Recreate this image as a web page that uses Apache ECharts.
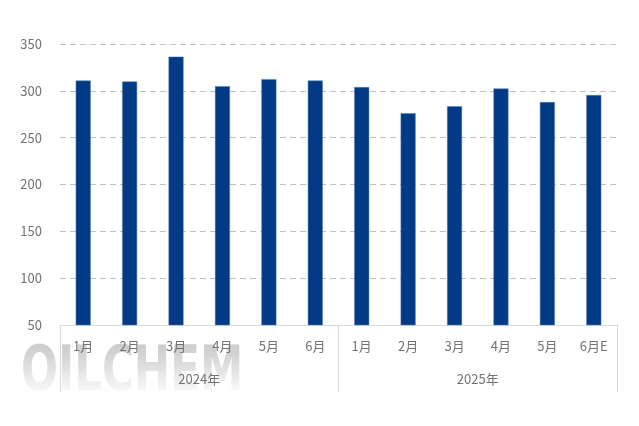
<!DOCTYPE html>
<html>
<head>
<meta charset="utf-8">
<script src="https://cdn.jsdelivr.net/npm/echarts@6/dist/echarts.min.js"></script>
<style>
html,body{margin:0;padding:0;background:#fff;}
#chart{width:639px;height:426px;}
</style>
</head>
<body>
<div id="chart"></div>
<script>
var months = ['1月','2月','3月','4月','5月','6月','1月','2月','3月','4月','5月','6月E'];
var years = ['2024年','2025年'];
var values = [311, 310, 336.5, 305, 312.5, 311, 304, 276, 283.5, 302.5, 288, 295.5];
var yTicks = {min: 50, max: 350, interval: 50};

var chart = echarts.init(document.getElementById('chart'));
var font = '"Noto Sans CJK SC", "Noto Sans", sans-serif';
chart.setOption({
  animation: false,
  backgroundColor: '#fff',
  graphic: [{
    type: 'text',
    x: 21,
    y: 343,
    scaleX: 0.78,
    z: -10,
    silent: true,
    style: {
      text: 'OILCHEM',
      fontSize: 62,
      fontWeight: 'bold',
      fontFamily: '"DejaVu Sans Condensed"',
      fill: '#cdcdcd'
    }
  }, {
    type: 'rect',
    z: -5,
    silent: true,
    shape: {x: 15, y: 343, width: 235, height: 52},
    style: {
      fill: new echarts.graphic.LinearGradient(0, 0, 0, 1, [
        {offset: 0, color: 'rgba(255,255,255,0)'},
        {offset: 0.2, color: 'rgba(255,255,255,0.1)'},
        {offset: 1, color: 'rgba(255,255,255,0.95)'}
      ])
    }
  }],
  grid: {left: 60, right: 22, top: 44, bottom: 101},
  xAxis: [{
    type: 'category',
    data: months,
    position: 'bottom',
    axisLine: {show: true, lineStyle: {color: '#d9d9d9', width: 1}},
    axisTick: {show: false},
    axisLabel: {color: '#737373', fontSize: 13, margin: 15, fontFamily: font, interval: 0}
  }, {
    type: 'category',
    data: years,
    position: 'bottom',
    axisLine: {show: false},
    axisTick: {show: true, length: 67, interval: 0, lineStyle: {color: '#d9d9d9', width: 1}},
    axisLabel: {color: '#737373', fontSize: 13, margin: 48, fontFamily: font}
  }],
  yAxis: {
    type: 'value',
    min: yTicks.min, max: yTicks.max, interval: yTicks.interval,
    axisLine: {show: false},
    axisTick: {show: false},
    axisLabel: {color: '#737373', fontSize: 13, margin: 18, fontFamily: font},
    splitLine: {lineStyle: {color: '#c0c0c0', type: [6, 4], width: 1}}
  },
  series: [{
    type: 'bar',
    data: values,
    xAxisIndex: 0,
    barWidth: 15,
    itemStyle: {color: '#023a86', borderColor: '#5a7fb8', borderWidth: 0.5}
  }]
});
</script>
</body>
</html>
